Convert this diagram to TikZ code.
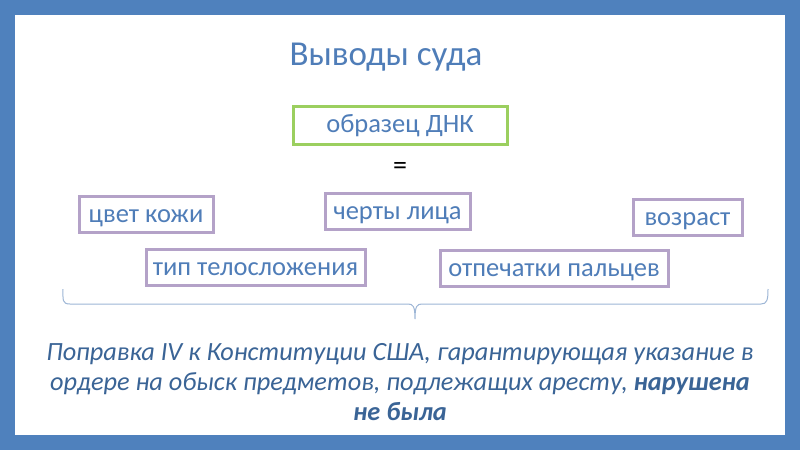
\documentclass[tikz,border=0pt]{standalone}
\usepackage{fontspec}
\setmainfont{Carlito}
\definecolor{frameblue}{HTML}{4F81BD}
\definecolor{txtblue}{HTML}{4F7DB8}
\definecolor{darkblue}{HTML}{3A6496}
\definecolor{boxgreen}{HTML}{9BCF5F}
\definecolor{boxpurple}{HTML}{B4A2C8}
\definecolor{bracecol}{HTML}{9DB6D6}
\tikzset{
  boxtxt/.style={text=txtblue, font=\fontsize{26.5}{30}\selectfont, inner xsep=0pt, inner ysep=0pt, text height=20pt, text depth=4pt},
  pbox/.style={boxtxt, draw=boxpurple, line width=3pt, minimum height=36pt},
  gbox/.style={boxtxt, draw=boxgreen, line width=3pt, minimum width=214pt, minimum height=38pt, text height=18pt}
}
\begin{document}
\begin{tikzpicture}[x=1pt,y=-1pt]
\fill[frameblue] (0,0) rectangle (800,450);
\fill[white] (15,15) rectangle (785,435);
\useasboundingbox (0,0) rectangle (800,450);
\node[text=txtblue, font=\fontsize{35}{40}\selectfont] (title) at (386,57) {Выводы суда};
\node[gbox] (dna) at (400,125) {образец ДНК};
\node[font=\fontsize{28}{30}\selectfont] (eq) at (400,168) {=};
\node[pbox, minimum width=134pt] (skin) at (146,214) {цвет кожи};
\node[pbox, minimum width=145pt] (face) at (397.5,211) {черты лица};
\node[pbox, minimum width=109pt] (age) at (687.5,217) {возраст};
\node[pbox, minimum width=219pt] (body) at (255.5,267) {тип телосложения};
\node[pbox, minimum width=228pt] (prints) at (554,268) {отпечатки пальцев};
\coordinate (bl) at (63,289);
\coordinate (br) at (768,289);
\coordinate (tip) at (415,319);
\draw[bracecol, line width=1pt] (bl) .. controls (63,300) and (62,304) .. (70,304) -- (408,304) .. controls (413,304) and (415,306) .. (tip)
  (tip) .. controls (415,306) and (417,304) .. (422,304) -- (761,304) .. controls (767,304) and (768,300) .. (br);
\node[text=darkblue, font=\fontsize{26.3}{30}\selectfont\itshape, align=center] (txt) at (400,382) {Поправка IV к Конституции США, гарантирующая указание в\\ ордере на обыск предметов, подлежащих аресту, \textbf{нарушена}\\ \textbf{не была}};
\end{tikzpicture}
\end{document}
